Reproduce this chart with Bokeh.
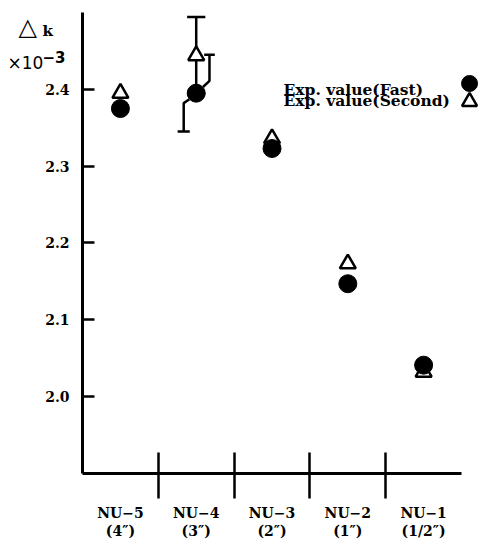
from bokeh.plotting import figure
from bokeh.models import (Range1d, LinearAxis, FixedTicker,
                          NumeralTickFormatter)
from bokeh.core.properties import value
from bokeh.embed import file_html
from bokeh.resources import INLINE

# Measured reactivity difference (x 10^-3) for each sample
samples = ["NU−5", "NU−4", "NU−3", "NU−2", "NU−1"]
sizes = ["(4″)", "(3″)", "(2″)", "(1″)", "(1/2″)"]
fast = [2.375, 2.395, 2.323, 2.147, 2.041]
second = [2.395, 2.444, 2.336, 2.173, 2.032]
fast_err = [0.0, 0.05, 0.0, 0.0, 0.0]
second_err = [0.0, 0.05, 0.0, 0.0, 0.0]
y_ticks = [2.0, 2.1, 2.2, 2.3, 2.4]

SERIF = "DejaVu Serif"
SANS = "DejaVu Sans"
INK = "#000000"

xpos = list(range(len(samples)))
separators = [i + 0.5 for i in xpos[:-1]]
X0, X1 = -0.5, 4.5      # extent of the sample axis
Y0, Y1 = 1.9, 2.5       # extent of the value axis

# the frame fills the canvas; both axes sit at fixed positions inside it
p = figure(width=483, height=547,
           x_range=Range1d(-1.582, 4.790), y_range=Range1d(1.8037, 2.5156),
           x_axis_type=None, y_axis_type=None,
           toolbar_location=None, output_backend="svg",
           min_border_left=0, min_border_right=0,
           min_border_top=0, min_border_bottom=0)
p.outline_line_color = None
p.background_fill_color = "white"
p.border_fill_color = "white"

# --- axes -------------------------------------------------------------
yax = LinearAxis(ticker=FixedTicker(ticks=y_ticks),
                 formatter=NumeralTickFormatter(format="0.0"),
                 fixed_location=X0, bounds=(Y0, Y1),
                 axis_line_width=3, axis_line_color=INK,
                 major_tick_in=12, major_tick_out=0,
                 major_tick_line_width=2.5, major_tick_line_color=INK,
                 minor_tick_line_color=None,
                 major_label_standoff=13,
                 major_label_text_font=SERIF,
                 major_label_text_font_style="bold",
                 major_label_text_font_size="14px",
                 major_label_text_color=INK)
p.add_layout(yax, "left")

# sample names under each column; the minor ticks mark the column borders
xax = LinearAxis(ticker=FixedTicker(ticks=xpos, minor_ticks=separators),
                 fixed_location=Y0, bounds=(X0, X1),
                 major_label_overrides={i: f"{s}\n{z}" for i, (s, z) in enumerate(zip(samples, sizes))},
                 axis_line_width=3, axis_line_color=INK,
                 major_tick_line_color=None,
                 major_tick_in=0, major_tick_out=0,
                 minor_tick_in=21, minor_tick_out=25,
                 minor_tick_line_width=2.5, minor_tick_line_color=INK,
                 major_label_standoff=6,
                 major_label_text_font=SERIF,
                 major_label_text_font_style="bold",
                 major_label_text_font_size="14px",
                 major_label_text_color=INK,
                 major_label_text_line_height=1.15)
p.add_layout(xax, "below")

# --- error bars ---------------------------------------------------------
# second-sample bars: plain vertical bar with caps
sx, sy0, sy1, cx0, cx1, cy = [], [], [], [], [], []
for x, v, e in zip(xpos, second, second_err):
    if e > 0:
        sx.append(x); sy0.append(v - e); sy1.append(v + e)
        for yy in (v - e, v + e):
            cx0.append(x - 0.12); cx1.append(x + 0.12); cy.append(yy)
p.segment(x0=sx, y0=sy0, x1=sx, y1=sy1, line_color=INK, line_width=2.5)
p.segment(x0=cx0, y0=cy, x1=cx1, y1=cy, line_color=INK, line_width=2.5)

# fast bars: arms stepped sideways so they clear the other bar
fxs, fys, fcx0, fcx1, fcy = [], [], [], [], []
for x, v, e in zip(xpos, fast, fast_err):
    if e > 0:
        fxs.append([x + 0.09, x + 0.175, x + 0.175])
        fys.append([v + 0.008, v + 0.016, v + e])
        fcx0.append(x + 0.105); fcx1.append(x + 0.245); fcy.append(v + e)
        fxs.append([x - 0.09, x - 0.165, x - 0.165])
        fys.append([v - 0.008, v - 0.013, v - e])
        fcx0.append(x - 0.245); fcx1.append(x - 0.085); fcy.append(v - e)
p.multi_line(xs=fxs, ys=fys, line_color=INK, line_width=2.5)
p.segment(x0=fcx0, y0=fcy, x1=fcx1, y1=fcy, line_color=INK, line_width=2.5)

# --- points -------------------------------------------------------------
p.scatter(xpos, second, marker="triangle", size=16, fill_color="white",
          line_color=INK, line_width=2.5)
p.scatter(xpos, fast, marker="circle", size=18, fill_color=INK,
          line_color=INK)

# --- key ------------------------------------------------------------------
key_x_text = 2.152
key_x_mark = 4.606
p.text(x=[key_x_text, key_x_text], y=[2.3998, 2.3855],
       text=["Exp. value(Fast)", "Exp. value(Second)"],
       text_font=value(SERIF), text_font_style="bold",
       text_font_size="15.5px", text_color=INK,
       text_align="left", text_baseline="alphabetic")
p.scatter([key_x_mark], [2.4076], marker="circle", size=16,
          fill_color=INK, line_color=INK)
p.scatter([key_x_mark], [2.384], marker="triangle", size=15,
          fill_color="white", line_color=INK, line_width=2.5)

# --- quantity label above the value axis --------------------------------
p.text(x=[-1.344], y=[2.4805], text=["△"], text_font=value(SANS),
       text_font_size="24px", text_color=INK, text_baseline="alphabetic")
p.text(x=[-1.028], y=[2.4753], text=["k"], text_font=value(SERIF),
       text_font_style="bold", text_font_size="15px", text_color=INK,
       text_baseline="alphabetic")
p.text(x=[-1.489], y=[2.4337], text=["×10"], text_font=value(SANS),
       text_font_size="17px", text_color=INK, text_baseline="alphabetic")
p.text(x=[-1.028], y=[2.4415], text=["−3"], text_font=value(SANS),
       text_font_style="bold", text_font_size="15px", text_color=INK,
       text_baseline="alphabetic")

open("out.html", "w").write(file_html(p, INLINE))
